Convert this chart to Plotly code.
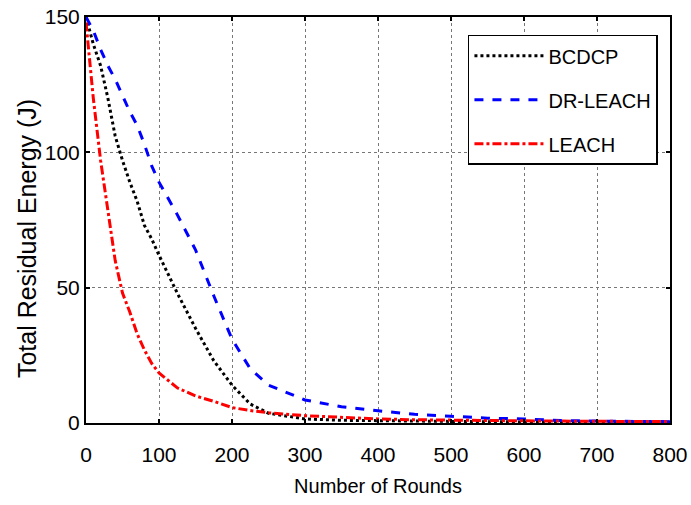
import plotly.graph_objects as go

rounds = [0, 10, 20, 30, 40, 50, 60, 70, 80, 90, 100, 125, 150, 175, 200, 225, 250,
          300, 350, 400, 450, 500, 550, 600, 650, 700, 750, 800]
bcdcp = [150, 140, 132, 120, 106, 97, 89, 82, 73, 68, 62, 48, 35, 23, 14, 7, 3.6,
         1.5, 1.0, 0.8, 0.6, 0.5, 0.45, 0.4, 0.35, 0.3, 0.3, 0.3]
dr_leach = [150, 145, 138, 132, 127, 121, 115, 110, 103, 95, 89, 77, 64, 47, 31, 20, 14,
            8.5, 6, 4.5, 3.2, 2.5, 1.8, 1.5, 0.9, 0.7, 0.6, 0.5]
leach = [148, 120, 97, 78, 60, 48, 41, 33, 27, 22, 18.5, 13, 10, 8, 5.7, 4.6, 3.8,
         2.7, 2.0, 1.5, 1.2, 1.0, 0.9, 0.8, 0.7, 0.6, 0.55, 0.5]

x_ticks = [0, 100, 200, 300, 400, 500, 600, 700, 800]
y_ticks = [0, 50, 100, 150]

font = "Liberation Sans, Arial"

fig = go.Figure()
fig.add_trace(go.Scatter(x=rounds, y=bcdcp, mode="lines", name="BCDCP", legendgroup="a",
                         line=dict(color="black", width=3, dash="dot")))
fig.add_trace(go.Scatter(x=rounds, y=dr_leach, mode="lines", name="DR-LEACH", legendgroup="b",
                         line=dict(color="#0000ff", width=3, dash="dash")))
fig.add_trace(go.Scatter(x=rounds, y=leach, mode="lines", name="LEACH", legendgroup="c",
                         line=dict(color="#ff0000", width=3, dash="dashdot")))

axis_common = dict(showline=True, linecolor="black", linewidth=2, mirror="allticks",
                   ticks="inside", ticklen=4, tickcolor="black", tickwidth=1.5,
                   showgrid=True, gridcolor="#777777", griddash="dot", gridwidth=1,
                   zeroline=False, automargin=False, ticklabeloverflow="allow",
                   tickfont=dict(family=font, size=21, color="black"))

fig.update_xaxes(range=[0, 800], tickvals=x_ticks, ticklabelstandoff=12,
                 title=dict(text="Number of Rounds", font=dict(family=font, size=20, color="black"),
                            standoff=14),
                 **axis_common)
fig.update_yaxes(range=[0, 150], tickvals=y_ticks, **axis_common)

fig.add_annotation(text="Total Residual Energy (J)", xref="paper", yref="paper",
                   x=-0.101, y=0.453, xanchor="center", yanchor="middle",
                   textangle=-90, showarrow=False,
                   font=dict(family=font, size=25, color="black"))

fig.update_layout(
    width=691, height=505,
    margin=dict(l=86, r=21, t=17, b=82),
    paper_bgcolor="white", plot_bgcolor="white",
    showlegend=True,
    legend=dict(x=0.654, y=0.956, xanchor="left", yanchor="top",
                bgcolor="white", bordercolor="black", borderwidth=1.5,
                font=dict(family=font, size=20, color="black"),
                tracegroupgap=15, itemwidth=69),
)

fig.write_html("out.html", config={"displayModeBar": False},
               post_script="document.body.style.margin='0px';document.body.style.overflow='hidden';")
